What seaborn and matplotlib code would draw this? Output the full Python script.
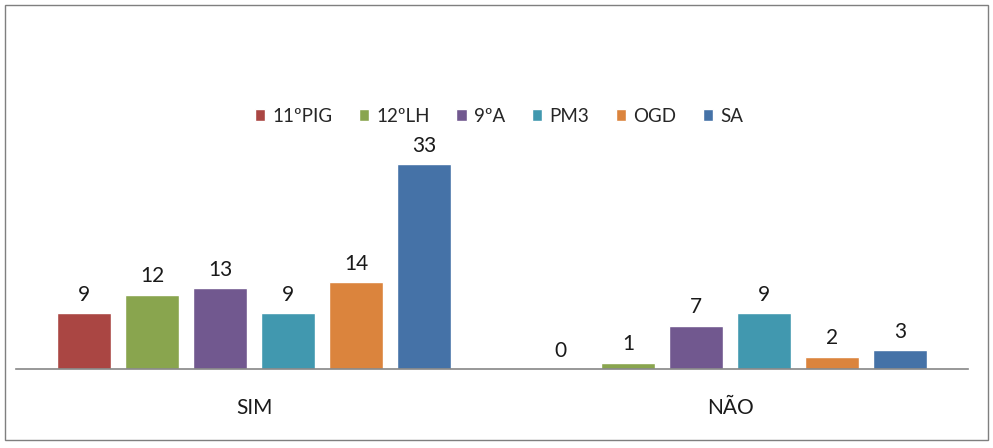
import pandas as pd
import numpy as np
import matplotlib
matplotlib.use("Agg")
import matplotlib.pyplot as plt
import seaborn as sns
from matplotlib.patches import Rectangle

# Chart data
categories = ["SIM", "NÃO"]
groups = ["11ºPIG", "12ºLH", "9ºA", "PM3", "OGD", "SA"]
sim_values = [9, 12, 13, 9, 14, 33]
nao_values = [0, 1, 7, 9, 2, 3]
colors = ["#AA4643", "#89A54E", "#71588F", "#4198AF", "#DB843D", "#4572A7"]

# long format for seaborn
df = pd.DataFrame({
    "Resposta": [categories[0]] * len(groups) + [categories[1]] * len(groups),
    "Grupo": groups + groups,
    "Valor": sim_values + nao_values,
})

sns.set_style("white")
plt.rcParams["font.family"] = ["Lato", "DejaVu Sans"]

fig = plt.figure(figsize=(9.93, 4.48), dpi=100)
ax = fig.add_axes([16 / 993, 79 / 448, 952 / 993, 217 / 448])

sns.barplot(data=df, x="Resposta", y="Valor", hue="Grupo", order=categories,
            hue_order=groups, palette=colors, width=0.857, gap=0.2,
            saturation=1, ax=ax, errorbar=None)

# value labels on top of each bar
for container in ax.containers:
    ax.bar_label(container, padding=6, fontsize=15, color="#1a1a1a")

ax.set_ylim(0, 35)
ax.set_xlim(-0.5, 1.5)
ax.set_xlabel("")
ax.set_ylabel("")
ax.set_yticks([])
ax.tick_params(axis="x", length=0, pad=21, labelsize=15, colors="#1a1a1a")
for side in ["left", "right", "top"]:
    ax.spines[side].set_visible(False)
ax.spines["bottom"].set_color("#868686")
ax.spines["bottom"].set_linewidth(1.2)

# legend at top center
handles, labels = ax.get_legend_handles_labels()
ax.legend(handles, labels, loc="center", bbox_to_anchor=(499 / 993, 1 - 116 / 448),
          bbox_transform=fig.transFigure, ncol=6, frameon=False, fontsize=13.5,
          handlelength=0.55, handleheight=0.55, handletextpad=0.4, columnspacing=1.4)

# chart border
fig.patches.append(Rectangle((5 / 993, 8 / 448), 983 / 993, 435 / 448,
                             transform=fig.transFigure, fill=False,
                             edgecolor="#7f7f7f", linewidth=1.0))

plt.savefig("out.png", dpi=100)
